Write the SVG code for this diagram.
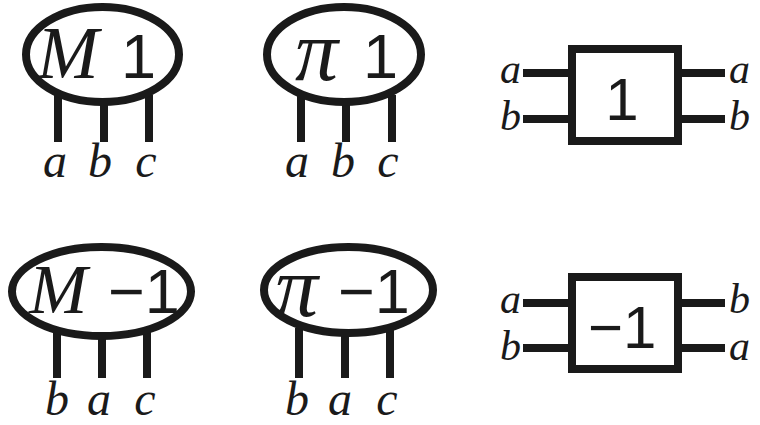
<svg xmlns="http://www.w3.org/2000/svg" width="760" height="425" viewBox="0 0 760 425">
<defs>
<style type="text/css">
.shape{fill:#ffffff;stroke:#1a1a1a;stroke-width:8}
.wire{stroke:#1a1a1a;stroke-width:8;fill:none}
.mi{font-family:'Liberation Serif','Times New Roman',serif;font-style:italic;fill:#1a1a1a}
.num{font-family:'Liberation Sans',Arial,sans-serif;fill:#1a1a1a}
</style>
</defs>
<rect width="760" height="425" fill="#ffffff"/>
<g id="connectors">
  <path class="wire" d="M58 95V142M104 97V142M149 95V142"/>
  <path class="wire" d="M301 95V142M346 97V142M392 95V142"/>
  <path class="wire" d="M57 330V378M102 333V378M147 330V378"/>
  <path class="wire" d="M299 328V378M345 330V378M390 328V378"/>
  <path class="wire" d="M523 73H572M523 119H572M678 73H725M678 119H725"/>
  <path class="wire" d="M523 303H572M523 348H572M678 303H725M678 348H725"/>
</g>
<g id="node-M1">
  <ellipse class="shape" cx="102.5" cy="54.5" rx="76.5" ry="47.5"/>
  <text class="mi" font-size="74" x="37" y="78">M</text>
  <text class="num" font-size="63" x="121" y="78">1</text>
  <g class="mi" font-size="48" text-anchor="middle">
    <text x="55" y="177">a</text>
    <text x="100" y="177">b</text>
    <text x="146" y="177">c</text>
  </g>
</g>
<g id="node-pi1">
  <ellipse class="shape" cx="344" cy="54.5" rx="77" ry="47.5"/>
  <text class="mi" font-size="86" x="295" y="80">π</text>
  <text class="num" font-size="63" x="363" y="78">1</text>
  <g class="mi" font-size="48" text-anchor="middle">
    <text x="297" y="177">a</text>
    <text x="343" y="177">b</text>
    <text x="388" y="177">c</text>
  </g>
</g>
<g id="node-box1">
  <rect class="shape" x="572" y="49" width="106" height="92"/>
  <text class="num" font-size="60" x="622" y="120" text-anchor="middle">1</text>
  <g class="mi" font-size="42">
    <text x="521" y="83" text-anchor="end">a</text>
    <text x="521" y="130" text-anchor="end">b</text>
    <text x="729" y="83">a</text>
    <text x="729" y="130">b</text>
  </g>
</g>
<g id="node-Minv">
  <ellipse class="shape" cx="101.5" cy="291.5" rx="89.5" ry="44.5"/>
  <text class="mi" font-size="70" x="29" y="313">M</text>
  <text class="num" font-size="63" x="108" y="313">−1</text>
  <g class="mi" font-size="48" text-anchor="middle">
    <text x="57" y="415">b</text>
    <text x="99" y="415">a</text>
    <text x="145" y="415">c</text>
  </g>
</g>
<g id="node-piinv">
  <ellipse class="shape" cx="348.5" cy="290" rx="84.5" ry="43"/>
  <text class="mi" font-size="86" x="275" y="316">π</text>
  <text class="num" font-size="63" x="338" y="313">−1</text>
  <g class="mi" font-size="48" text-anchor="middle">
    <text x="297" y="415">b</text>
    <text x="340" y="415">a</text>
    <text x="387" y="415">c</text>
  </g>
</g>
<g id="node-boxinv">
  <rect class="shape" x="572" y="277" width="106" height="92"/>
  <text class="num" font-size="60" x="588" y="348">−1</text>
  <g class="mi" font-size="42">
    <text x="521" y="313" text-anchor="end">a</text>
    <text x="521" y="360" text-anchor="end">b</text>
    <text x="729" y="313">b</text>
    <text x="729" y="360">a</text>
  </g>
</g>
</svg>
